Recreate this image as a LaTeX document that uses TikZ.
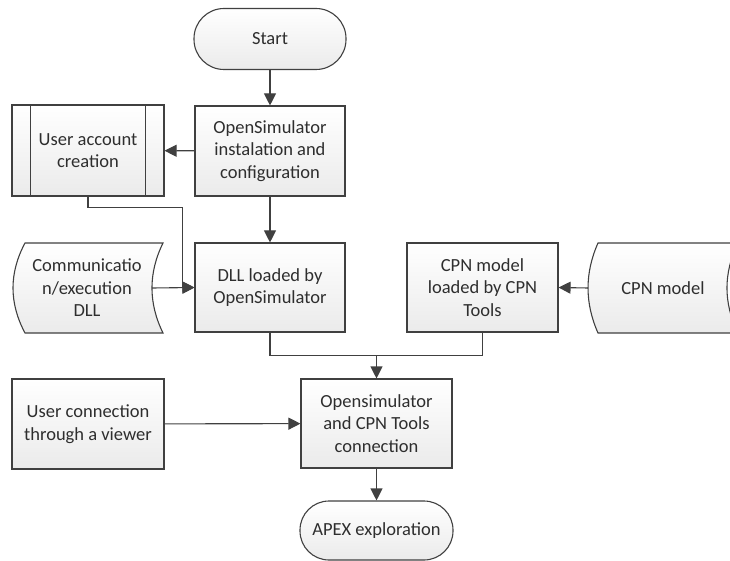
\documentclass[tikz,border=0pt]{standalone}
\usepackage{fontspec}
\setmainfont{Carlito}
\usetikzlibrary{arrows.meta}
\definecolor{ln}{HTML}{404040}
\definecolor{tx}{HTML}{2E2E2E}
\tikzset{
  base/.style={draw=ln, line width=1.1pt, top color=white, bottom color=gray!16, text=tx,
    font=\fontsize{18.5}{22.5}\selectfont, align=center, inner sep=0pt},
  procbox/.style={base, rectangle, minimum width=151pt, minimum height=89pt},
  termbox/.style={base, rectangle, rounded corners=30pt, minimum width=152pt, minimum height=61pt},
  txtonly/.style={text=tx, font=\fontsize{18.5}{22.5}\selectfont, align=center, inner sep=0pt},
  shapeline/.style={draw=ln, line width=1.1pt, top color=white, bottom color=gray!16},
  arr/.style={draw=ln, line width=1.1pt, -{Triangle[length=12pt,width=12pt]}},
  conn/.style={draw=ln, line width=1.1pt}
}
\begin{document}
\begin{tikzpicture}[x=1pt,y=-1pt]
\useasboundingbox (0,0) rectangle (730,561);
\begin{scope}
\clip (0,0) rectangle (730,561);
% stored data shapes
\path[shapeline] (25,243) -- (163,243) .. controls (148.3,273) and (148.3,303) .. (163,333) -- (25,333) .. controls (9,303) and (9,273) .. (25,243) -- cycle;
\path[shapeline] (598,243) -- (738,243) .. controls (723.3,273) and (723.3,303) .. (738,333) -- (598,333) .. controls (584.7,303) and (584.7,273) .. (598,243) -- cycle;
\end{scope}
\node[txtonly] (comm) at (87,288) {Communicatio\\n/execution\\DLL};
\node[txtonly] (cpnm) at (663,288) {CPN model};
\coordinate (commR) at (152,288);
\coordinate (cpnR) at (588,288);

\node[termbox] (start) at (270,39) {Start};
\node[procbox, minimum width=150pt, minimum height=90pt] (os) at (270,151) {OpenSimulator\\instalation and\\configuration};
\node[procbox, minimum width=152pt, minimum height=91pt] (uac) at (88,150.5) {User account\\creation};
\draw[ln, line width=1.1pt] ([xshift=19pt]uac.north west) -- ([xshift=19pt]uac.south west);
\draw[ln, line width=1.1pt] ([xshift=-19pt]uac.north east) -- ([xshift=-19pt]uac.south east);
\node[procbox, minimum width=150pt] (dll) at (270,287.5) {DLL loaded by\\OpenSimulator};
\node[procbox] (cpnl) at (482.5,287.5) {CPN model\\loaded by CPN\\Tools};
\node[procbox] (cx) at (376.5,423.5) {Opensimulator\\and CPN Tools\\connection};
\node[procbox, minimum width=152pt, minimum height=90pt] (ucon) at (88,424) {User connection\\through a viewer};
\node[termbox, minimum width=153pt, minimum height=59pt, rounded corners=29pt] (apex) at (376.5,530.5) {APEX exploration};

\draw[arr] (start) -- (os);
\draw[arr] (os) -- (uac);
\draw[arr] (os) -- (dll);
\draw[arr] (uac.south) -- ++(0,11) -| ([xshift=-12pt]dll.west) -- (dll.west);
\draw[arr] (commR) -- (dll.west);
\draw[arr] (cpnR) -- (cpnl.east);
\draw[conn] (cpnl.south) -- ++(0,23) -| (cx.north);
\draw[arr] (dll.south) -- ++(0,23) -| (cx.north);
\draw[arr] (ucon) -- (cx);
\draw[arr] (cx) -- (apex);
\end{tikzpicture}
\end{document}
